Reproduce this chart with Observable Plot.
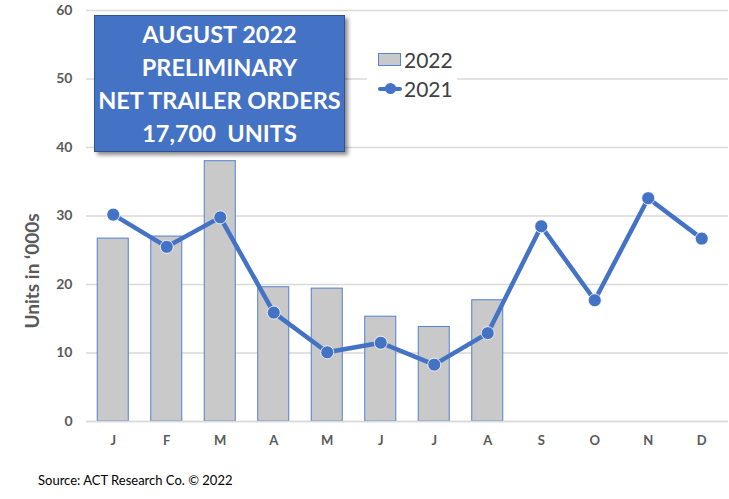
<!DOCTYPE html>
<html>
<head>
<meta charset="utf-8">
<script src="https://cdn.jsdelivr.net/npm/d3@7"></script>
<script src="https://cdn.jsdelivr.net/npm/@observablehq/plot@0.6"></script>
<style>
  html, body { margin: 0; padding: 0; background: #fff; }
  #wrap { position: relative; width: 729px; height: 499px; font-family: Lato, "Open Sans", sans-serif; overflow: hidden; }
  #wrap svg { position: absolute; left: 0; top: 0; }
  .box { position: absolute; left: 94px; top: 15px; width: 251px; height: 137px; background: #4472c4; border: 1px solid #2f528f; box-sizing: border-box;
         box-shadow: 3px 3px 4px rgba(0,0,0,0.45); color: #fff; font-weight: 700; font-size: 23.5px; line-height: 33px; text-align: center; padding-top: 2px; }
  .legend { position: absolute; left: 367px; top: 44px; width: 90px; height: 58px; background: #fff; }
  .leg-item { position: absolute; left: 11px; height: 24px; font-size: 21px; color: #404040; display: flex; align-items: center; }
  .swatch { width: 21px; height: 11px; background: #c9c9c9; border: 1px solid #5b85d0; margin-right: 3px; }
  .lineSw { position: relative; width: 24px; height: 11px; margin-right: 2px; }
  .lineSw .l { position: absolute; left: 0; top: 4px; width: 24px; height: 4px; background: #4472c4; border-radius: 2px; }
  .lineSw .d { position: absolute; left: 7px; top: 0; width: 11px; height: 11px; border-radius: 50%; background: #4472c4; }
  .ylab { position: absolute; left: 31px; top: 271px; transform: translate(-50%, -50%) rotate(-90deg); white-space: nowrap; font-weight: 700; font-size: 19px; color: #595959; }
  .src { position: absolute; left: 38px; top: 472px; font-size: 13px; color: #000; }
</style>
</head>
<body>
<div id="wrap"></div>
<script>
const months = ["J","F","M","A","M","J","J","A","S","O","N","D"];
const orders2022 = [26.7, 27.0, 38.0, 19.6, 19.4, 15.3, 13.8, 17.7];
const orders2021 = [30.2, 25.5, 29.8, 15.9, 10.1, 11.5, 8.3, 12.9, 28.5, 17.7, 32.6, 26.7];
const yTicks = [0, 10, 20, 30, 40, 50, 60];
const boxLines = ["AUGUST 2022", "PRELIMINARY", "NET TRAILER ORDERS", "17,700  UNITS"];
const legendLabels = ["2022", "2021"];
const yTitle = "Units in \u2018000s";
const source = "Source: ACT Research Co.  \u00a9 2022";

const bars = orders2022.map((v, i) => ({i, v}));
const line = orders2021.map((v, i) => ({i, v}));

const chart = Plot.plot({
  width: 729,
  height: 499,
  marginLeft: 86,
  marginRight: 1,
  marginTop: 10,
  marginBottom: 78,
  style: {fontFamily: "Lato, 'Open Sans', sans-serif", background: "#fff"},
  x: {type: "band", domain: d3.range(12), paddingInner: 0.42, paddingOuter: 0.21, round: false, label: null},
  y: {domain: [0, 60], label: null},
  marks: [
    Plot.gridY(yTicks, {stroke: "#d9d9d9", strokeOpacity: 1, strokeWidth: 1.3}),
    Plot.axisY(yTicks, {tickSize: 0, tickPadding: 14, fontSize: 14, fontWeight: 700, fill: "#595959", label: null}),
    Plot.axisX(d3.range(12), {tickSize: 0, tickPadding: 14, fontSize: 13, fontWeight: 700, fill: "#595959", tickFormat: i => months[i], label: null}),
    Plot.barY(bars, {x: "i", y: "v", fill: "#c9c9c9", stroke: "#5080d0", strokeWidth: 1}),
    Plot.ruleY([0], {stroke: "#d9d9d9", strokeWidth: 1.3}),
    Plot.line(line, {x: "i", y: "v", stroke: "#4472c4", strokeWidth: 4.5}),
    Plot.dot(line, {x: "i", y: "v", r: 6.5, fill: "#4472c4", stroke: "#ffffff", strokeWidth: 0.8})
  ]
});

const wrap = document.getElementById("wrap");
wrap.appendChild(chart);

const box = document.createElement("div");
box.className = "box";
box.innerHTML = boxLines.map(t => `<div>${t.replace(/  /g, "&nbsp; ")}</div>`).join("");
wrap.appendChild(box);

const leg = document.createElement("div");
leg.className = "legend";
leg.innerHTML =
  `<div class="leg-item" style="top:3px"><div class="swatch"></div>${legendLabels[0]}</div>` +
  `<div class="leg-item" style="top:32px"><div class="lineSw"><div class="l"></div><div class="d"></div></div>${legendLabels[1]}</div>`;
wrap.appendChild(leg);

const yl = document.createElement("div");
yl.className = "ylab";
yl.textContent = yTitle;
wrap.appendChild(yl);

const src = document.createElement("div");
src.className = "src";
src.textContent = source;
wrap.appendChild(src);
</script>
</body>
</html>
